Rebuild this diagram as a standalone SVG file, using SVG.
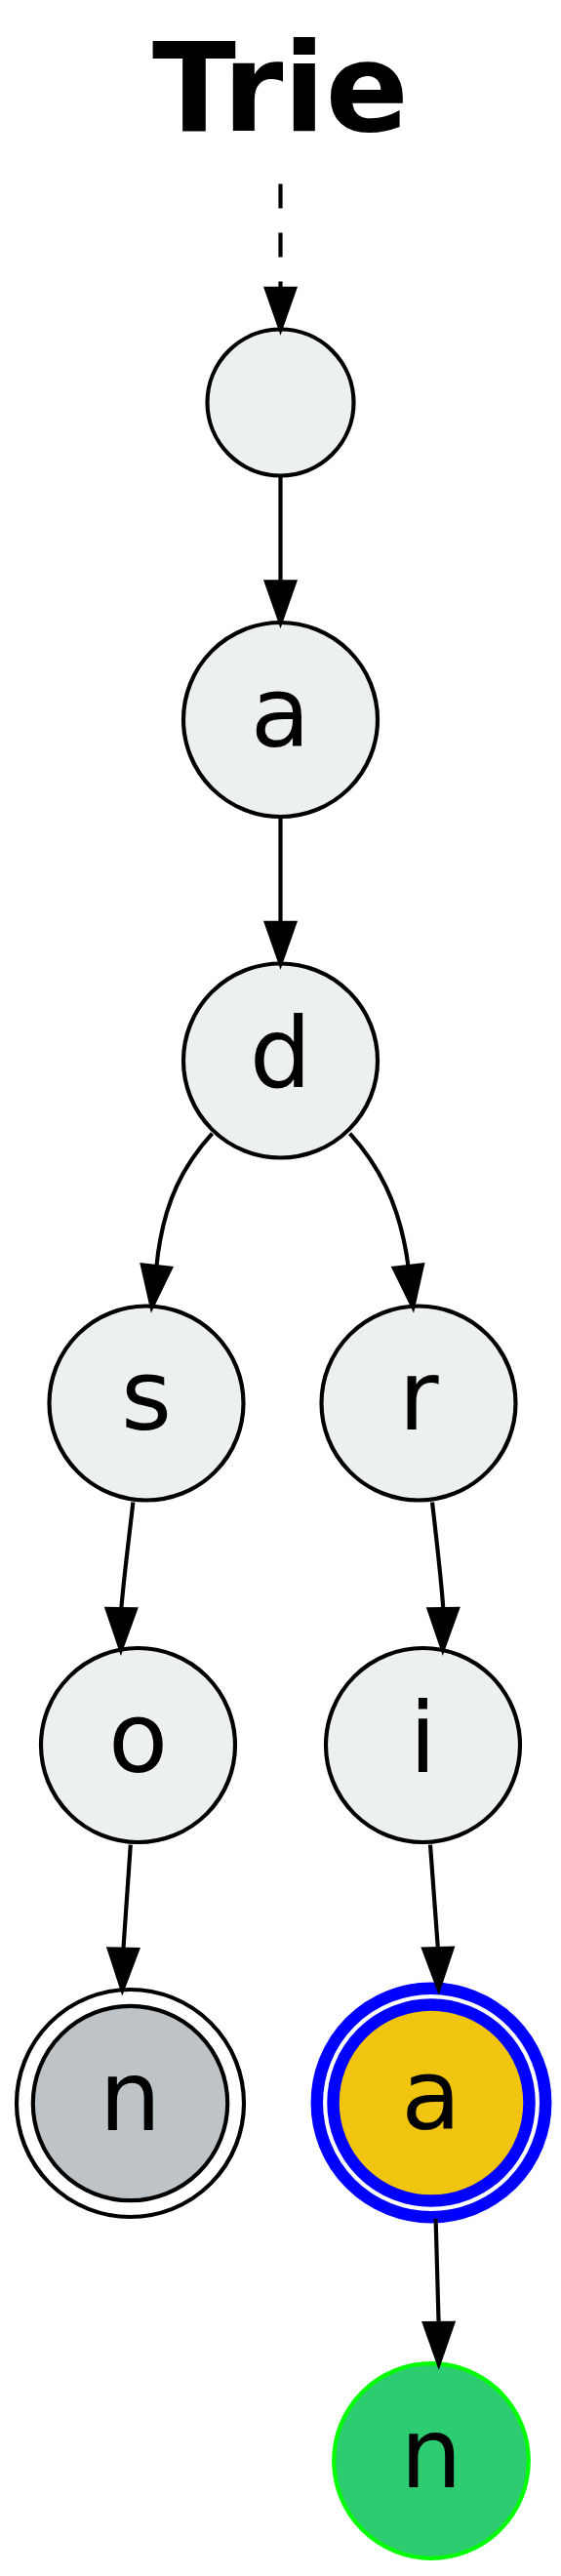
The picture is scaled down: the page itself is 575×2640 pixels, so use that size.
<svg xmlns="http://www.w3.org/2000/svg" width="575" height="2640" viewBox="0 0 575 2640">
<defs>
<style>
.node{fill:#ecf0f1;stroke:#000;stroke-width:4.17}
.lbl{font-family:"DejaVu Sans","Liberation Sans",sans-serif;font-size:100px;text-anchor:middle;fill:#000}
.edge{fill:none;stroke:#000;stroke-width:4.17}
.head{fill:#000;stroke:#000;stroke-width:4.17}
.title{font-family:"DejaVu Sans","Liberation Sans",sans-serif;font-weight:bold;font-size:126px;text-anchor:middle;fill:#000}
</style>
</defs>
<rect x="0" y="0" width="575" height="2640" fill="#fff"/>
<text class="title" x="287.5" y="134.3">Trie</text>
<g id="root"><circle class="node" cx="287.5" cy="412.5" r="75"/></g>
<g id="node_a"><circle class="node" cx="287.5" cy="737.5" r="99.5"/><text class="lbl" x="287.5" y="765">a</text></g>
<g id="node_d"><circle class="node" cx="287.5" cy="1087" r="99.5"/><text class="lbl" x="287.5" y="1114">d</text></g>
<g id="node_s"><circle class="node" cx="150" cy="1438" r="99.5"/><text class="lbl" x="150" y="1465">s</text></g>
<g id="node_r"><circle class="node" cx="429" cy="1438" r="99.5"/><text class="lbl" x="429" y="1465">r</text></g>
<g id="node_o"><circle class="node" cx="141.5" cy="1788.5" r="99.5"/><text class="lbl" x="141.5" y="1815.5">o</text></g>
<g id="node_i"><circle class="node" cx="433.5" cy="1788.5" r="99.5"/><text class="lbl" x="433.5" y="1815.5">i</text></g>
<g id="node_n1"><circle cx="133.5" cy="2155.5" r="99.7" fill="#bdc3c7" stroke="#000" stroke-width="4.17"/><circle cx="133.5" cy="2155.5" r="116.5" fill="none" stroke="#000" stroke-width="4.17"/><text class="lbl" x="133.5" y="2182.5">n</text></g>
<g id="node_a2"><circle cx="442" cy="2155" r="100.5" fill="#f1c40f" stroke="#0000ff" stroke-width="12.5"/><circle cx="442" cy="2155" r="117.2" fill="none" stroke="#0000ff" stroke-width="12.5"/><text class="lbl" x="442" y="2182">a</text></g>
<g id="node_n2"><circle cx="442" cy="2522" r="99.8" fill="#2ecc71" stroke="#00ff00" stroke-width="4.17"/><text class="lbl" x="442" y="2549">n</text></g>
<g id="edges">
<path class="edge" d="M287.5,188.6 L287.5,295.8" stroke-dasharray="25,25"/>
<polygon class="head" points="272.9,295.8 287.5,337.5 302.1,295.8"/>
<path class="edge" d="M287.5,487.5 L287.5,596.3"/>
<polygon class="head" points="272.9,596.3 287.5,638 302.1,596.3"/>
<path class="edge" d="M287.5,837 L287.5,945.8"/>
<polygon class="head" points="272.9,945.8 287.5,987.5 302.1,945.8"/>
<path class="edge" d="M217.5,1161.7 C190,1192 167,1230 160.4,1298"/>
<polygon class="head" points="174.9,1299.7 155.6,1339.4 145.9,1296.3"/>
<path class="edge" d="M358.6,1161.7 C386,1192 410,1232 418.5,1298"/>
<polygon class="head" points="432.9,1296.3 423.3,1339.4 403.9,1299.7"/>
<path class="edge" d="M136.4,1539.4 C133,1570 126.5,1620 124.3,1649"/>
<polygon class="head" points="138.9,1649.2 123.9,1690.7 109.7,1648.8"/>
<path class="edge" d="M443,1539.4 C446.5,1570 452.5,1620 454.3,1649"/>
<polygon class="head" points="468.9,1648.8 453.8,1690.7 439.7,1649.2"/>
<path class="edge" d="M133.8,1890.7 L126.4,1997.6"/>
<polygon class="head" points="141,1997.9 125.4,2039.3 111.8,1997.3"/>
<path class="edge" d="M441,1890.7 L448.9,1997"/>
<polygon class="head" points="463.5,1996.6 449.6,2038.5 434.3,1997.4"/>
<path class="edge" d="M446.6,2273.9 L449.6,2381"/>
<polygon class="head" points="464.2,2380.9 449.7,2422.8 435,2381.1"/>
</g>
</svg>
